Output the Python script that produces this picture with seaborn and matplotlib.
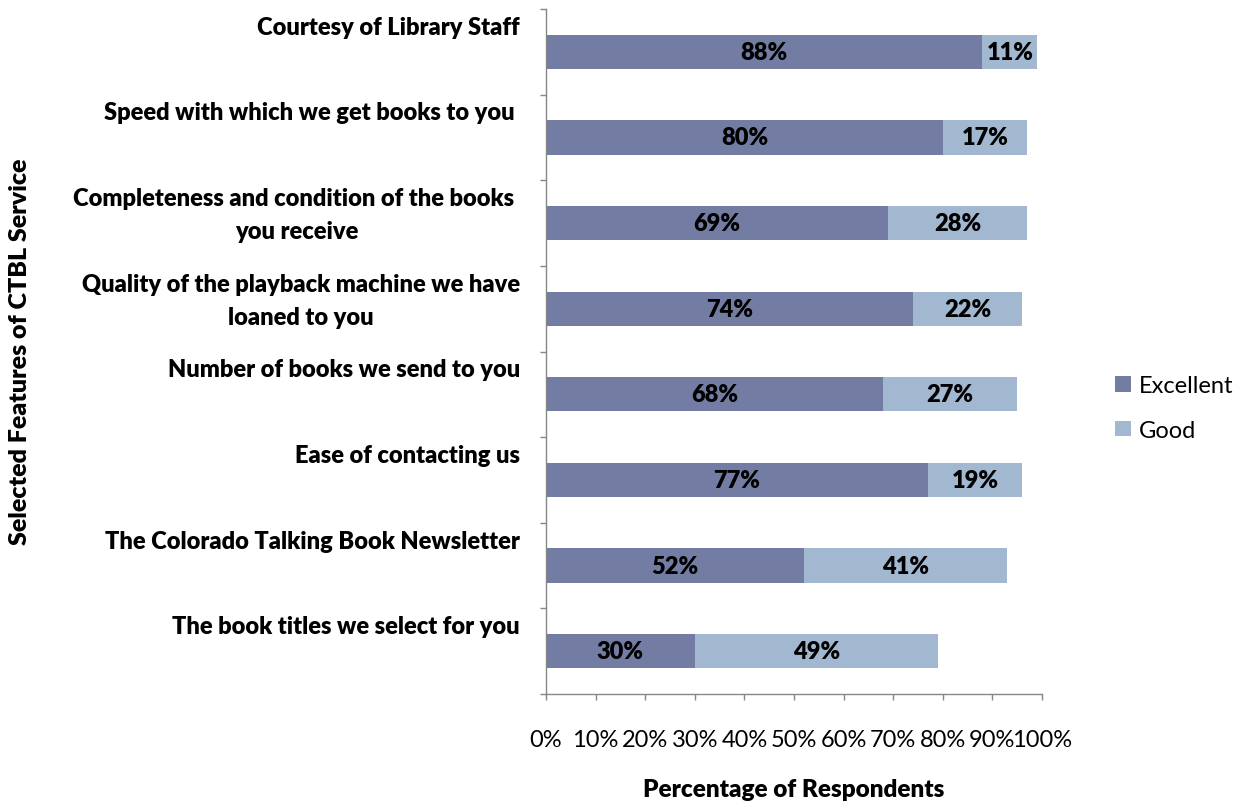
import matplotlib
matplotlib.use("Agg")
import matplotlib.pyplot as plt
import matplotlib.transforms as mtransforms
from matplotlib.patches import Patch
import seaborn as sns
import pandas as pd

features = [
    "Courtesy of Library Staff",
    "Speed with which we get books to you ",
    "Completeness and condition of the books \nyou receive",
    "Quality of the playback machine we have\nloaned to you",
    "Number of books we send to you",
    "Ease of contacting us",
    "The Colorado Talking Book Newsletter",
    "The book titles we select for you",
]
excellent = [88, 80, 69, 74, 68, 77, 52, 30]
good = [11, 17, 28, 22, 27, 19, 41, 49]
x_ticks = [0, 10, 20, 30, 40, 50, 60, 70, 80, 90, 100]
x_tick_labels = [f"{v}%" for v in x_ticks]

EXC_COLOR = "#737DA4"
GOOD_COLOR = "#A2B8D0"
AXIS_GRAY = "#868686"
FS = 17

sns.set_theme(style="white")
plt.rcParams["font.family"] = ["Lato", "DejaVu Sans"]
plt.rcParams["text.color"] = "black"
plt.rcParams["axes.labelcolor"] = "black"
plt.rcParams["xtick.labelcolor"] = "black"

df = pd.DataFrame({"feature": features, "excellent": excellent, "good": good})
df["total"] = df["excellent"] + df["good"]

fig = plt.figure(figsize=(12.48, 8.04), dpi=100)
ax = fig.add_axes([546 / 1248, 1 - 695 / 804, (1042 - 546) / 1248, (695 - 10) / 804])

# stacked bars: full length in the "Good" colour, "Excellent" drawn over it
sns.barplot(data=df, y="feature", x="total", orient="h", color=GOOD_COLOR,
            width=0.4, saturation=1, linewidth=0, edgecolor="none", ax=ax)
sns.barplot(data=df, y="feature", x="excellent", orient="h", color=EXC_COLOR,
            width=0.4, saturation=1, linewidth=0, edgecolor="none", ax=ax)

n = len(features)
ax.set_xlim(0, 100)
ax.set_ylim(n - 0.5, -0.5)

# segment value labels
for i, (e, g) in enumerate(zip(excellent, good)):
    ax.text(e / 2, i, f"{e}%", ha="center", va="center", fontsize=FS,
            fontweight="heavy", color="black")
    ax.text(e + g / 2, i, f"{g}%", ha="center", va="center", fontsize=FS,
            fontweight="heavy", color="black")

# category labels sit at the top of each band, right-aligned left of the axis
trans = mtransforms.blended_transform_factory(ax.transAxes, ax.transData)
for i, name in enumerate(features):
    ax.text(-26 / 496, i - 0.5 + 0.08, name, transform=trans, ha="right",
            va="top", multialignment="center", fontsize=FS,
            fontweight="heavy", linespacing=1.62, color="black")

ax.set_yticks([i - 0.5 for i in range(n + 1)])
ax.set_yticklabels([])
ax.set_xticks(x_ticks)
ax.set_xticklabels(x_tick_labels, fontsize=FS)
ax.tick_params(axis="x", direction="out", length=4.5, width=1, color=AXIS_GRAY,
               pad=21, bottom=True, labelcolor="black")
ax.tick_params(axis="y", direction="out", length=4.5, width=1, color=AXIS_GRAY,
               left=True)
ax.set_ylabel("")
ax.set_xlabel("Percentage of Respondents", fontsize=17.5, fontweight="heavy",
              labelpad=20, color="black")

for side in ("top", "right"):
    ax.spines[side].set_visible(False)
for side in ("left", "bottom"):
    ax.spines[side].set_color(AXIS_GRAY)
    ax.spines[side].set_linewidth(1)

fig.text(20 / 1248, 1 - 352 / 804, "Selected Features of CTBL Service",
         rotation=90, ha="center", va="center", fontsize=18,
         fontweight="heavy", color="black")

handles = [Patch(facecolor=EXC_COLOR, edgecolor="none", label="Excellent"),
           Patch(facecolor=GOOD_COLOR, edgecolor="none", label="Good")]
leg = fig.legend(handles=handles, loc="center left",
                 bbox_to_anchor=(1094 / 1248, 1 - 409 / 804), frameon=False,
                 fontsize=FS, handlelength=0.65, handleheight=0.65,
                 labelspacing=1.0, handletextpad=0.35)
for t in leg.get_texts():
    t.set_color("black")

fig.savefig("out.png", dpi=100)
